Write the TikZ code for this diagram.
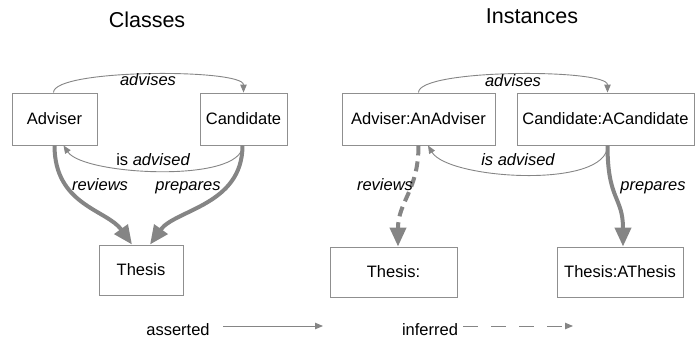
\documentclass[tikz,border=0pt]{standalone}
\usepackage{fontspec}
\setmainfont{Liberation Sans}
\usetikzlibrary{arrows.meta}
\definecolor{edgegray}{HTML}{858585}
\definecolor{boxgray}{HTML}{8F8F8F}
\begin{document}
\begin{tikzpicture}[x=1pt,y=-1pt,
  box/.style={draw=boxgray,line width=0.9pt,inner sep=0pt,font=\fontsize{16.5}{19}\selectfont,minimum height=52pt},
  thin/.style={draw=edgegray,line width=0.9pt,-{Triangle[length=8pt,width=6.5pt]}},
  thick/.style={draw=edgegray,line width=4pt,-{Triangle[length=19pt,width=16pt]}},
  lbl/.style={font=\fontsize{16.5}{19}\selectfont\itshape,anchor=base,inner sep=0pt},
  ttl/.style={font=\fontsize{21.5}{24}\selectfont,anchor=base,inner sep=0pt}]
\useasboundingbox (0,0) rectangle (696,341);
% titles
\node[ttl] (tc) at (147,27) {Classes};
\node[ttl] (ti) at (532,23) {Instances};
% class boxes
\node[box,minimum width=85pt] (adv) at (54.5,119) {Adviser};
\node[box,minimum width=87pt] (cand) at (243.5,119) {Candidate};
\node[box,minimum width=84pt,minimum height=50pt] (th) at (141,270) {Thesis};
% instance boxes
\node[box,minimum width=153pt] (iadv) at (418.5,119) {Adviser:AnAdviser};
\node[box,minimum width=177pt] (icand) at (605.5,119) {Candidate:ACandidate};
\node[box,minimum width=127pt,minimum height=50pt] (ith) at (393.5,272) {Thesis:};
\node[box,minimum width=126pt,minimum height=50pt] (iath) at (620,272) {Thesis:AThesis};
% class edges
\draw[thin] ([xshift=-1pt]adv.north) .. controls +(0,-24) and +(0,-24) .. (cand.north);
\draw[thin] ([xshift=-1pt]cand.south) .. controls +(0,38) and +(20,30) .. ([xshift=9pt]adv.south);
\draw[thick] (adv.south) .. controls +(0,60) and +(-25,-35) .. ([xshift=-9pt]th.north);
\draw[thick] ([xshift=-1pt]cand.south) .. controls +(0,60) and +(25,-35) .. ([xshift=9pt]th.north);
\node[lbl] (la) at (148,85.5) {advises};
\node[lbl] (lb) at (153,165) {\upshape is \itshape advised};
\node[lbl] (lc) at (100,190) {reviews};
\node[lbl] (ld) at (188,190) {prepares};
% instance edges
\draw[thin] (iadv.north) .. controls +(0,-24) and +(0,-24) .. ([xshift=2pt]icand.north);
\draw[thin] ([xshift=2pt]icand.south) .. controls +(0,44) and +(20,34) .. ([xshift=9.5pt]iadv.south);
\draw[thick,dash pattern=on 10pt off 6pt] (iadv.south) .. controls +(0,45) and +(0,-45) .. ([xshift=4.5pt]ith.north);
\draw[thick] ([xshift=2pt]icand.south) .. controls +(0,55) and +(0,-50) .. ([xshift=3pt]iath.north);
\node[lbl] (le) at (513,86) {advises};
\node[lbl] (lf) at (518,165) {is advised};
\node[lbl] (lg) at (385,190) {reviews};
\node[lbl] (lh) at (653,190) {prepares};
% legend
\node[lbl,font=\fontsize{16.5}{19}\selectfont] (asr) at (178,335) {asserted};
\node[lbl,font=\fontsize{16.5}{19}\selectfont] (inf) at (430,335) {inferred};
\coordinate (a1) at (223,326);
\coordinate (a2) at (323,326);
\coordinate (b1) at (463,326);
\coordinate (b2) at (573,326);
\draw[thin] (a1) -- (a2);
\draw[thin,dash pattern=on 15pt off 13pt] (b1) -- (b2);
\end{tikzpicture}
\end{document}
